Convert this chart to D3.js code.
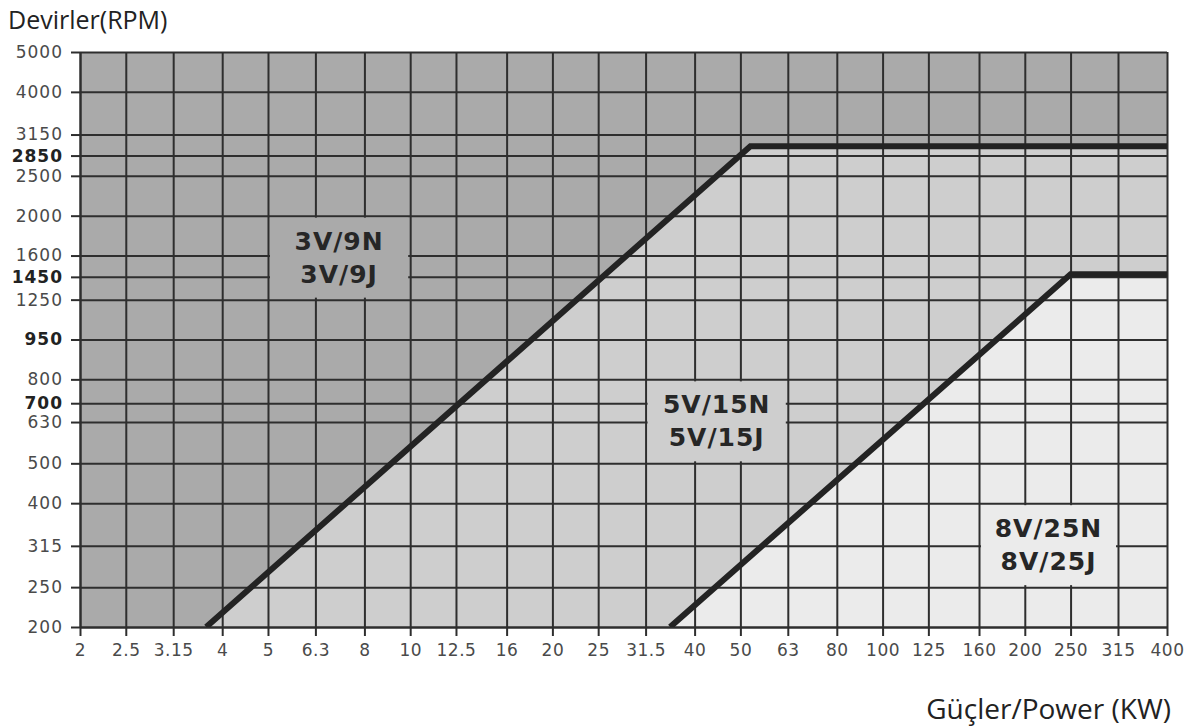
<!DOCTYPE html>
<html>
<head>
<meta charset="utf-8">
<script src="https://cdn.jsdelivr.net/npm/d3@7"></script>
<style>
  html, body { margin: 0; padding: 0; background: #ffffff; }
  svg { display: block; }
</style>
</head>
<body>
<svg id="chart" width="1194" height="726"></svg>
<script>
// ---------- data ----------
const xTickValues = [2, 2.5, 3.15, 4, 5, 6.3, 8, 10, 12.5, 16, 20, 25, 31.5, 40, 50, 63, 80, 100, 125, 160, 200, 250, 315, 400];
const xTickLabels = ["2", "2.5", "3.15", "4", "5", "6.3", "8", "10", "12.5", "16", "20", "25", "31.5", "40", "50", "63", "80", "100", "125", "160", "200", "250", "315", "400"];

const yTickValues = [5000, 4000, 3150, 2800, 2500, 2000, 1600, 1420, 1250, 1000, 800, 700, 630, 500, 400, 315, 250, 200];
const yTickLabels = ["5000", "4000", "3150", "2850", "2500", "2000", "1600", "1450", "1250", "950", "800", "700", "630", "500", "400", "315", "250", "200"];
const yBoldLabels = ["2850", "1450", "950", "700"];

// limit curves: power (kW) vs speed (rpm)
const curve3V = [{ p: 3.7, rpm: 200 }, { p: 52.5, rpm: 2950 }, { p: 400, rpm: 2950 }];
const curve5V = [{ p: 35.5, rpm: 200 }, { p: 250, rpm: 1440 }, { p: 400, rpm: 1440 }];

const zoneNames = ["3V/9N\n3V/9J", "5V/15N\n5V/15J", "8V/25N\n8V/25J"];
const zoneBoxes = [
  { p0: 5, p1: 10, r0: 1250, r1: 2000, zone: 0 },
  { p0: 31.5, p1: 63, r0: 500, r1: 800, zone: 1 },
  { p0: 160, p1: 315, r0: 250, r1: 400, zone: 2 }
];
const zoneColors = ["#aaaaaa", "#cecece", "#ebebeb"];

// ---------- layout ----------
const svg = d3.select("#chart");
const margin = { left: 80, right: 27, top: 52, bottom: 99 };
const W = 1194, H = 726;
const x = d3.scaleLog().domain([2, 400]).range([margin.left, W - margin.right]);
const y = d3.scaleLog().domain([200, 5000]).range([H - margin.bottom, margin.top]);

const gridColor = "#2e2e2e";
const plotW = x(400) - x(2), plotH = y(200) - y(5000);

svg.append("defs").append("clipPath").attr("id", "plotClip")
  .append("rect").attr("x", x(2)).attr("y", y(5000)).attr("width", plotW).attr("height", plotH);

// zone 1 background
svg.append("rect")
  .attr("x", x(2)).attr("y", y(5000))
  .attr("width", plotW).attr("height", plotH)
  .attr("fill", zoneColors[0]);

const area = d3.line().x(d => x(d.p)).y(d => y(d.rpm));
function regionBelow(curve) {
  return curve.concat([{ p: 400, rpm: 200 }]);
}
svg.append("path").attr("d", area(regionBelow(curve3V)) + "Z").attr("fill", zoneColors[1]);
svg.append("path").attr("d", area(regionBelow(curve5V)) + "Z").attr("fill", zoneColors[2]);

// gridlines
const gx = svg.append("g").attr("transform", `translate(0,${y(200)})`)
  .call(d3.axisBottom(x).tickValues(xTickValues).tickSizeInner(-plotH).tickSizeOuter(0).tickFormat(""));
gx.select(".domain").remove();
gx.selectAll(".tick line").attr("stroke", gridColor).attr("stroke-width", 2);

const gy = svg.append("g").attr("transform", `translate(${x(2)},0)`)
  .call(d3.axisLeft(y).tickValues(yTickValues).tickSizeInner(-plotW).tickSizeOuter(0).tickFormat(""));
gy.select(".domain").remove();
gy.selectAll(".tick line").attr("stroke", gridColor).attr("stroke-width", 2);

// axes with tick marks and labels
const axX = svg.append("g").attr("transform", `translate(0,${y(200)})`)
  .call(d3.axisBottom(x).tickValues(xTickValues).tickSizeInner(9).tickSizeOuter(0).tickPadding(8)
    .tickFormat((d, i) => xTickLabels[i]));
axX.select(".domain").attr("stroke", gridColor).attr("stroke-width", 2);
axX.selectAll(".tick line").attr("stroke", gridColor).attr("stroke-width", 2);
axX.selectAll(".tick text")
  .attr("font-family", "DejaVu Sans, sans-serif").attr("font-size", 17)
  .attr("letter-spacing", "0.5px").attr("fill", "#4a4a4a");

const axY = svg.append("g").attr("transform", `translate(${x(2)},0)`)
  .call(d3.axisLeft(y).tickValues(yTickValues).tickSizeInner(9).tickSizeOuter(0).tickPadding(8)
    .tickFormat((d, i) => yTickLabels[i]));
axY.select(".domain").attr("stroke", gridColor).attr("stroke-width", 2);
axY.selectAll(".tick line").attr("stroke", gridColor).attr("stroke-width", 2);
axY.selectAll(".tick text")
  .attr("font-family", "DejaVu Sans, sans-serif").attr("font-size", 17)
  .attr("letter-spacing", "1px")
  .attr("fill", (d, i) => yBoldLabels.includes(yTickLabels[i]) ? "#222" : "#4a4a4a")
  .attr("font-weight", (d, i) => yBoldLabels.includes(yTickLabels[i]) ? "bold" : "normal");

// label boxes (cover grid)
const boxes = svg.append("g");
zoneBoxes.forEach(b => {
  boxes.append("rect")
    .attr("x", x(b.p0) + 2).attr("y", y(b.r1) + 2)
    .attr("width", x(b.p1) - x(b.p0) - 4).attr("height", y(b.r0) - y(b.r1) - 4)
    .attr("fill", zoneColors[b.zone]);
  const cx = (x(b.p0) + x(b.p1)) / 2, cy = (y(b.r0) + y(b.r1)) / 2;
  const lines = zoneNames[b.zone].split("\n");
  lines.forEach((t, k) => {
    boxes.append("text")
      .attr("x", cx).attr("y", cy + (k === 0 ? -16.5 : 16.5))
      .attr("text-anchor", "middle").attr("dominant-baseline", "central")
      .attr("font-family", "DejaVu Sans, sans-serif").attr("font-weight", "bold")
      .attr("font-size", 25).attr("letter-spacing", "1px").attr("fill", "#262626")
      .text(t);
  });
});

// limit curves
const line = d3.line().x(d => x(d.p)).y(d => y(d.rpm));
const curves = svg.append("g").attr("clip-path", "url(#plotClip)");
[curve3V, curve5V].forEach(c => {
  curves.append("path").attr("d", line(c))
    .attr("fill", "none").attr("stroke", "#232323").attr("stroke-width", 6)
    .attr("stroke-linejoin", "miter");
});

// axis titles
svg.append("text").attr("x", 8).attr("y", 29)
  .attr("font-family", "Open Sans, sans-serif").attr("font-size", 25).attr("fill", "#222")
  .text("Devirler(RPM)");
svg.append("text").attr("x", 1171).attr("y", 719).attr("text-anchor", "end")
  .attr("font-family", "Open Sans, sans-serif").attr("font-size", 28).attr("fill", "#222")
  .text("Güçler/Power (KW)");
</script>
</body>
</html>
